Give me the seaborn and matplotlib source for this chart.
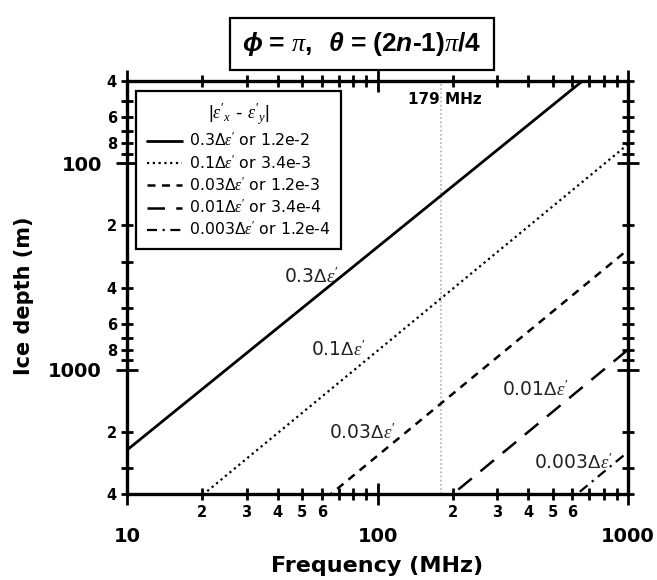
import numpy as np
import pandas as pd
import seaborn as sns
import matplotlib
matplotlib.use("Agg")
import matplotlib.pyplot as plt
from matplotlib.ticker import FixedLocator, FixedFormatter

# ---------------- data ----------------
freq_mhz = [10, 1000]
depth_03 = [2450, 26.5]
depth_01 = [8100, 81]
depth_003 = [26000, 262]
depth_001 = [80000, 800]
depth_0003 = [255000, 2500]
series_labels = [r"0.3$\Delta\varepsilon'$ or 1.2e-2",
                 r"0.1$\Delta\varepsilon'$ or 3.4e-3",
                 r"0.03$\Delta\varepsilon'$ or 1.2e-3",
                 r"0.01$\Delta\varepsilon'$ or 3.4e-4",
                 r"0.003$\Delta\varepsilon'$ or 1.2e-4"]
curve_texts = [r"0.3$\Delta\varepsilon'$", r"0.1$\Delta\varepsilon'$",
               r"0.03$\Delta\varepsilon'$", r"0.01$\Delta\varepsilon'$",
               r"0.003$\Delta\varepsilon'$"]
curve_text_freq = [54.5, 70, 87, 428, 603]
curve_text_depth = [356, 803, 2027, 1254, 2831]
marker_freq = 179
marker_text = "179 MHz"

x_major = [10, 100, 1000]
x_major_labels = ["10", "100", "1000"]
x_minor = [20, 30, 40, 50, 60, 70, 80, 90, 200, 300, 400, 500, 600, 700, 800, 900]
x_minor_labels = ["2", "3", "4", "5", "6", "", "", "", "2", "3", "4", "5", "6", "", "", ""]
y_major = [100, 1000]
y_major_labels = ["100", "1000"]
y_minor = [40, 50, 60, 70, 80, 90, 200, 300, 400, 500, 600, 700, 800, 900, 2000, 3000, 4000]
y_minor_labels = ["4", "", "6", "", "8", "", "2", "", "4", "", "6", "", "8", "", "2", "", "4"]

# ---------------- style ----------------
sns.set_style("ticks")
plt.rcParams['font.family'] = ['DejaVu Sans']
plt.rcParams['text.color'] = 'black'
plt.rcParams['axes.labelcolor'] = 'black'
plt.rcParams['xtick.color'] = 'black'
plt.rcParams['ytick.color'] = 'black'
plt.rcParams['mathtext.fontset'] = 'custom'
plt.rcParams['mathtext.rm'] = 'Liberation Sans'
plt.rcParams['mathtext.it'] = 'Liberation Serif:italic'
plt.rcParams['mathtext.bf'] = 'Liberation Sans:bold'
plt.rcParams['mathtext.bfit'] = 'Liberation Sans:bold:italic'

fig = plt.figure(figsize=(6.57, 5.80), dpi=100)
ax = fig.add_axes([127/657, 86/580, 501/657, 413/580])

styles = ['-', (0, (1, 1.6)), (0, (3.2, 2.6)), (0, (7, 4.5)), (0, (4.5, 2.5, 1, 2.5))]
widths = [2.0, 1.6, 1.8, 1.8, 1.6]
all_depths = [depth_03, depth_01, depth_003, depth_001, depth_0003]
for d, lab, ls, lw in zip(all_depths, series_labels, styles, widths):
    df = pd.DataFrame({"freq": freq_mhz, "depth": d})
    sns.lineplot(data=df, x="freq", y="depth", ax=ax, color="black",
                 linestyle=ls, linewidth=lw, label=lab, sort=False)

ax.axvline(marker_freq, color="#b0b0b0", linestyle=(0, (1, 1.5)), linewidth=1.2, zorder=0)

ax.set_xscale("log")
ax.set_yscale("log")
ax.set_xlim(10, 1000)
ax.set_ylim(4000, 40)

ax.xaxis.set_major_locator(FixedLocator(x_major))
ax.xaxis.set_major_formatter(FixedFormatter(x_major_labels))
ax.xaxis.set_minor_locator(FixedLocator(x_minor))
ax.xaxis.set_minor_formatter(FixedFormatter(x_minor_labels))
ax.yaxis.set_major_locator(FixedLocator(y_major))
ax.yaxis.set_major_formatter(FixedFormatter(y_major_labels))
ax.yaxis.set_minor_locator(FixedLocator(y_minor))
ax.yaxis.set_minor_formatter(FixedFormatter(y_minor_labels))

for s in ax.spines.values():
    s.set_linewidth(2.4)
    s.set_color("black")
    s.set_visible(True)

ax.tick_params(which="both", direction="inout", top=True, right=True,
               width=2, color="black", labelcolor="black")
ax.tick_params(which="major", length=16)
ax.tick_params(which="minor", length=8.5)
ax.tick_params(axis="x", which="major", pad=15.4, labelsize=14)
ax.tick_params(axis="x", which="minor", pad=4, labelsize=10.5)
ax.tick_params(axis="y", which="major", pad=10, labelsize=14)
ax.tick_params(axis="y", which="minor", pad=3, labelsize=10.5)
for lbl in ax.get_xticklabels(which="both") + ax.get_yticklabels(which="both"):
    lbl.set_fontweight("bold")

ax.set_xlabel("Frequency (MHz)", fontsize=16, fontweight="bold")
ax.set_ylabel("Ice depth (m)", fontsize=15, fontweight="bold")
ax.xaxis.set_label_coords(0.5, -0.15)
ax.yaxis.set_label_coords(-0.185, 0.48)

for t, fx, dy in zip(curve_texts, curve_text_freq, curve_text_depth):
    ax.text(fx, dy, t, fontsize=13.5, ha="center", va="center", color="#222222")

ax.text(marker_freq * 1.04, 49, marker_text, fontsize=11, fontweight="bold",
        ha="center", va="center")

leg = ax.legend(loc="upper left", bbox_to_anchor=(0.018, 0.976), borderaxespad=0,
                title=r"$|\varepsilon'_x$ - $\varepsilon'_y|$",
                prop={"size": 11.3}, title_fontsize=13,
                frameon=True, fancybox=False, framealpha=1,
                edgecolor="black", handlelength=2.2, handletextpad=0.45,
                labelspacing=0.27, borderpad=0.7)
leg.get_frame().set_linewidth(1.6)

fig.text(0.551, 0.924,
         "$\\mathbfit{\\phi}\\mathbf{\\,=\\,}\\pi\\mathbf{,\\ \\ }\\mathbfit{\\theta}\\mathbf{\\,=\\,(2}\\mathbfit{n}\\mathbf{\u20101)}\\pi\\mathbf{/4}$",
         fontsize=19, ha="center", va="center",
         bbox=dict(boxstyle="square,pad=0.45", facecolor="white", edgecolor="black", linewidth=1.6))

fig.savefig("out.png", dpi=100)
